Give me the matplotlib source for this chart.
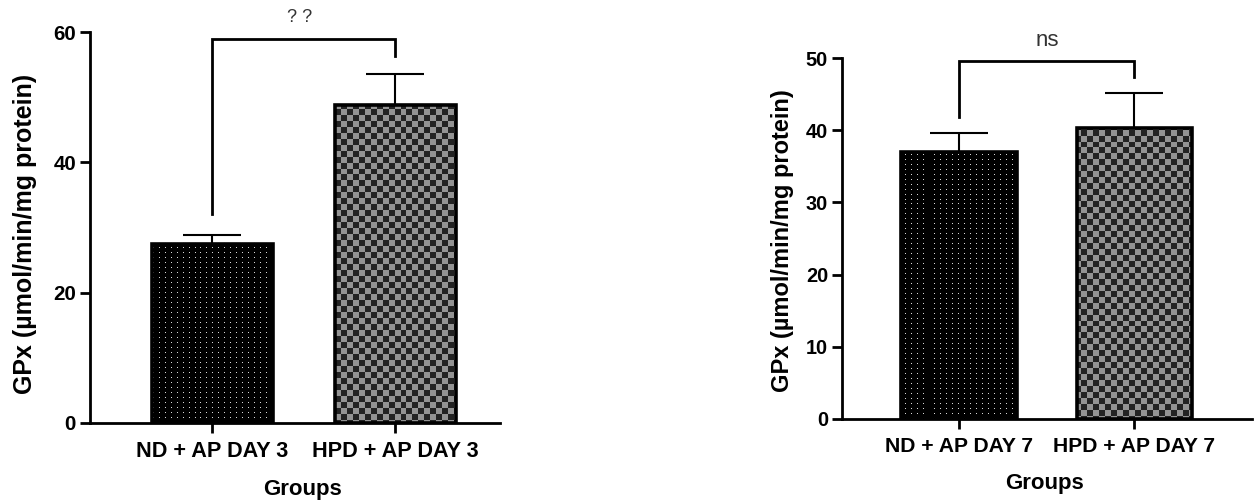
import numpy as np
import matplotlib
matplotlib.use("Agg")
import matplotlib.pyplot as plt

plt.rcParams['font.family'] = ['Liberation Sans', 'DejaVu Sans']

# ---- data ----
groups_d3 = ["ND + AP DAY 3", "HPD + AP DAY 3"]
means_d3 = [27.5, 48.8]
sem_d3 = [1.3, 4.7]
sig_d3 = "? ?"

groups_d7 = ["ND + AP DAY 7", "HPD + AP DAY 7"]
means_d7 = [37.0, 40.3]
sem_d7 = [2.6, 4.9]
sig_d7 = "ns"

yticks_d3 = [0, 20, 40, 60]
yticks_d7 = [0, 10, 20, 30, 40, 50]

ylabel = "GPx (µmol/min/mg protein)"
xlabel = "Groups"

W, H = 1254, 501
fig = plt.figure(figsize=(W / 100, H / 100), dpi=100)


def dot_texture(h, w):
    a = np.zeros((h, w, 3))
    a[2::5, 3::6] = 0.85
    return a


def check_texture(h, w):
    yy, xx = np.mgrid[0:h, 0:w]
    c = ((yy // 6) + (xx // 6)) % 2
    a = np.where(c[..., None] == 0, 0.14, 0.58) * np.ones((h, w, 3))
    return a


def px(x, y):
    return x / W, 1 - y / H


def panel(rect, groups, means, sems, ticks, sig, bracket, sig_xy, xlim,
          tick_fs, ylab_xy, ylab_fs, xlab_xy, xlab_fs, sig_fs):
    ax = fig.add_axes(rect)
    x = np.arange(len(groups))
    bars = ax.bar(x, means, width=0.66, facecolor='none', edgecolor='black',
                  linewidth=2.6, zorder=4)
    pw = int(round(rect[2] * W)) + 2
    ph = int(round(rect[3] * H)) + 2
    textures = [dot_texture(ph, pw), check_texture(ph, pw)]
    for b, tex in zip(bars, textures):
        im = ax.imshow(tex, extent=(0, 1, 0, 1), transform=ax.transAxes,
                       interpolation='nearest', aspect='auto', zorder=2)
        im.set_clip_path(b)
    ax.errorbar(x, means, yerr=[np.zeros(len(sems)), sems], fmt='none',
                ecolor='black', elinewidth=1.5, capsize=21, capthick=1.5, zorder=3)
    # significance bracket
    top, l_bot, r_bot = bracket
    ax.plot([x[0], x[0], x[1], x[1]], [l_bot, top, top, r_bot], color='black',
            lw=2, solid_joinstyle='miter', clip_on=False, zorder=5)
    fig.text(*px(*sig_xy), sig, ha='center', va='center', fontsize=sig_fs,
             color='#333333')
    ax.set_xlim(*xlim)
    ax.set_ylim(0, ticks[-1])
    ax.set_yticks(ticks)
    ax.set_xticks(x)
    ax.set_xticklabels(groups, fontsize=tick_fs, fontweight='bold')
    for lab in ax.get_yticklabels():
        lab.set_fontsize(tick_fs - 0.8)
        lab.set_fontweight('bold')
    fig.text(*px(*ylab_xy), ylabel, rotation=90, ha='center', va='center',
             fontsize=ylab_fs, fontweight='bold')
    fig.text(*px(*xlab_xy), xlabel, ha='center', va='center',
             fontsize=xlab_fs, fontweight='bold')
    for s in ['top', 'right']:
        ax.spines[s].set_visible(False)
    for s in ['left', 'bottom']:
        ax.spines[s].set_linewidth(2)
    ax.tick_params(axis='both', direction='out', length=7, width=2)
    ax.tick_params(axis='y', pad=3)
    ax.tick_params(axis='x', pad=6)
    ax.patch.set_alpha(0)
    return ax


panel([90 / W, 1 - 423 / H, 410 / W, 391 / H], groups_d3, means_d3, sem_d3,
      yticks_d3, sig_d3, (58.9, 32.0, 56.3), (300, 18), (-0.669, 1.571),
      15.6, (25, 234), 18, (303, 489), 16, 13)
panel([842 / W, 1 - 419 / H, 410 / W, 361 / H], groups_d7, means_d7, sem_d7,
      yticks_d7, sig_d7, (49.6, 41.8, 47.4), (1047, 40), (-0.667, 1.67),
      15.2, (782, 241), 17, (1045, 483), 16, 16)

fig.savefig("out.png", dpi=100)
